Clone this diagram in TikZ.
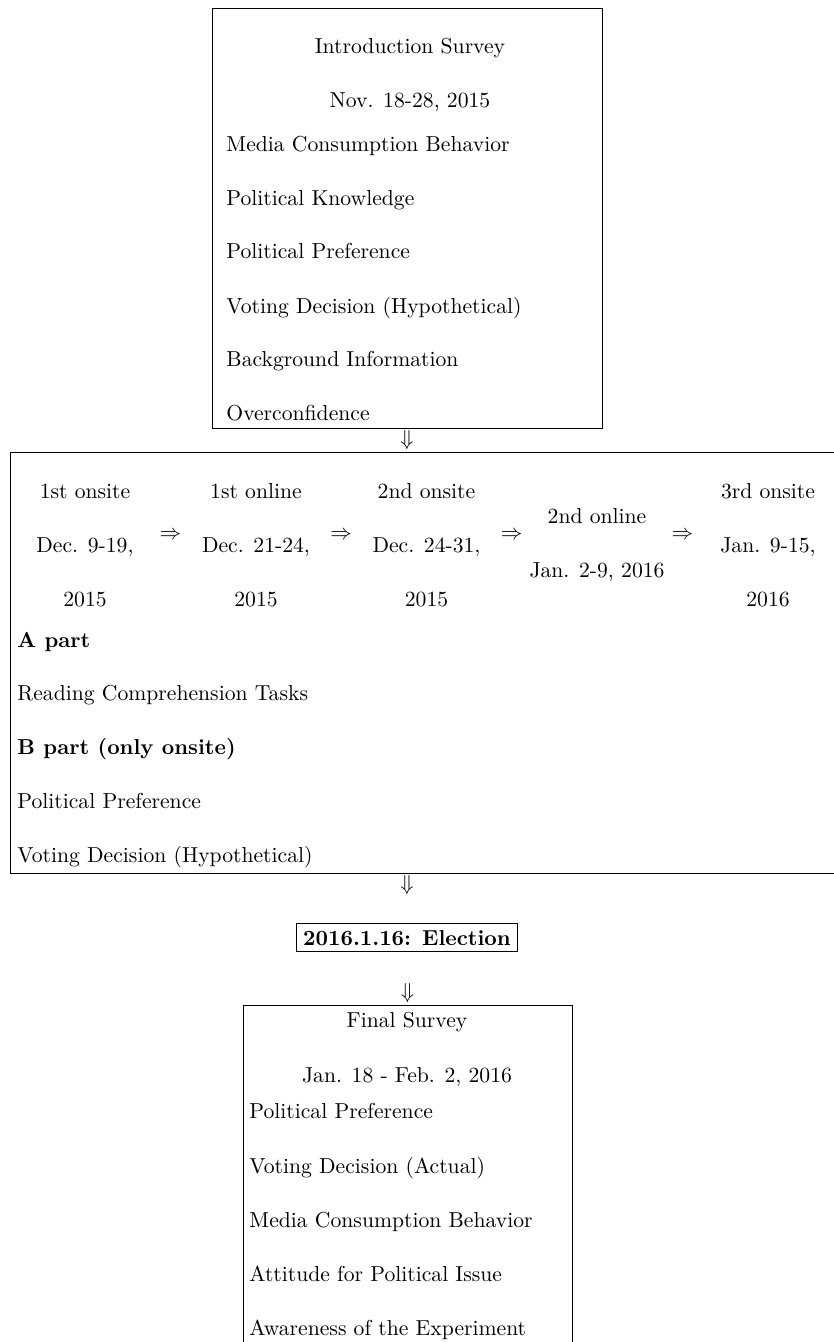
\documentclass[tikz,border=0pt]{standalone}
\usetikzlibrary{calc,fit}
\begin{document}
\begin{tikzpicture}[x=0.4619pt,y=-0.4619pt,
  txt/.style={inner sep=0pt, anchor=base west},
  ctr/.style={inner sep=0pt, anchor=base},
  frame/.style={draw, line width=0.4pt, inner sep=0pt},
  arr/.style={inner sep=0pt}]
\useasboundingbox (0,0) rectangle (834,1342);

% ---- Introduction survey box
\node[frame, fit={(212,8) (602,428)}] (intro) {};
\node[ctr] (introT) at (410,54) {Introduction Survey};
\node[ctr] (introD) at (410,107.5) {Nov. 18-28, 2015};
\node[txt] (i1) at (226,152) {Media Consumption Behavior};
\node[txt] (i2) at (226,205.5) {Political Knowledge};
\node[txt] (i3) at (226,259) {Political Preference};
\node[txt] (i4) at (226,313) {Voting Decision (Hypothetical)};
\node[txt] (i5) at (226,366.5) {Background Information};
\node[txt] (i6) at (226,420) {Overconfidence};

% ---- Middle box (sessions)
\node[frame, fit={(10,452) (845,873)}] (mid) {};
\node[ctr] (c1a) at (85,498) {1st onsite};
\node[ctr] (c1b) at (85,552) {Dec. 9-19,};
\node[ctr] (c1c) at (85,606) {2015};
\node[ctr] (c2a) at (256,498) {1st online};
\node[ctr] (c2b) at (256,552) {Dec. 21-24,};
\node[ctr] (c2c) at (256,606) {2015};
\node[ctr] (c3a) at (426.5,498) {2nd onsite};
\node[ctr] (c3b) at (426.5,552) {Dec. 24-31,};
\node[ctr] (c3c) at (426.5,606) {2015};
\node[ctr] (c4a) at (597,523) {2nd online};
\node[ctr] (c4b) at (597,577) {Jan. 2-9, 2016};
\node[ctr] (c5a) at (768,498) {3rd onsite};
\node[ctr] (c5b) at (768,552) {Jan. 9-15,};
\node[ctr] (c5c) at (768,606) {2016};
\node[arr] (r1) at ($(c1b)!0.5!(c2b)+(0,-11)$) {$\Rightarrow$};
\node[arr] (r2) at ($(c2b)!0.5!(c3b)+(0,-11)$) {$\Rightarrow$};
\node[arr] (r3) at ($(c3b)!0.5!(c4b |- c3b)+(0,-11)$) {$\Rightarrow$};
\node[arr] (r4) at ($(c4b |- c5b)!0.5!(c5b)+(0,-11)$) {$\Rightarrow$};
\node[txt] (m1) at (17,647) {\textbf{A part}};
\node[txt] (m2) at (17,700) {Reading Comprehension Tasks};
\node[txt] (m3) at (17,754) {\textbf{B part (only onsite)}};
\node[txt] (m4) at (17,808) {Political Preference};
\node[txt] (m5) at (17,862) {Voting Decision (Hypothetical)};

% ---- Election
\node[frame, fit={(296,923) (517,951)}] (elec) {};
\node[ctr] (elecT) at (407,945) {\textbf{2016.1.16: Election}};

% ---- Final survey box
\node[frame, fit={(243,1005) (572,1350)}] (final) {};
\node[ctr] (finT) at (407,1027) {Final Survey};
\node[ctr] (finD) at (407,1082) {Jan. 18 - Feb. 2, 2016};
\node[txt] (f1) at (249,1118) {Political Preference};
\node[txt] (f2) at (249,1173) {Voting Decision (Actual)};
\node[txt] (f3) at (249,1227.5) {Media Consumption Behavior};
\node[txt] (f4) at (249,1281) {Attitude for Political Issue};
\node[txt] (f5) at (249,1335) {Awareness of the Experiment};

% ---- vertical arrows
\node[arr] (d1) at ($(intro.south)!0.5!(intro.south |- mid.north)$) {$\Downarrow$};
\node[arr] (d2) at ($(intro.south |- mid.south)+(0,12)$) {$\Downarrow$};
\node[arr] (d3) at ($(final.north)+(0,-11)$) {$\Downarrow$};
\end{tikzpicture}
\end{document}
